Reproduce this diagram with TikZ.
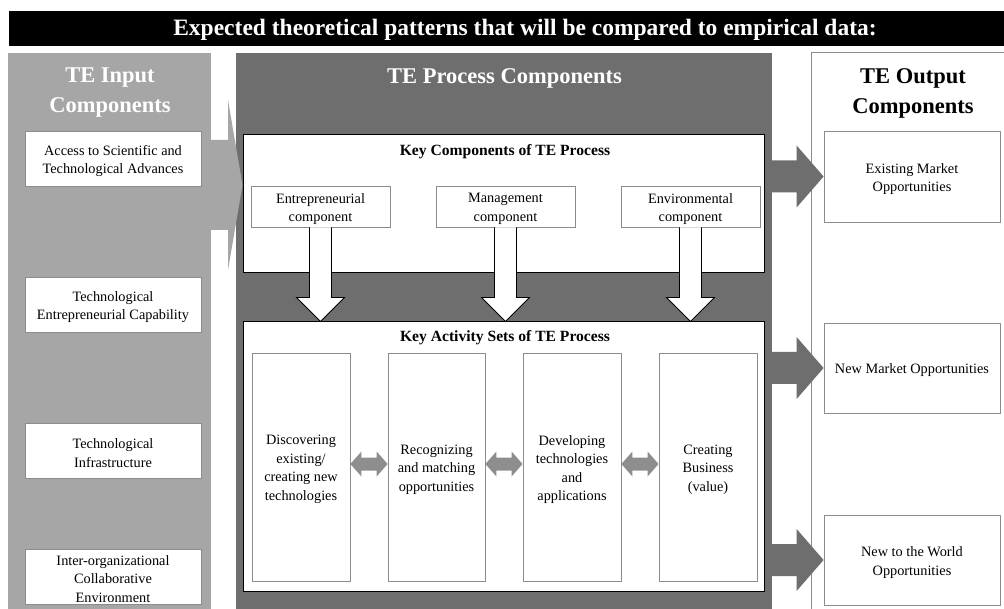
\documentclass[tikz,border=0pt]{standalone}
\usepackage{fontspec}
\setmainfont{Liberation Serif}
\usetikzlibrary{calc}
\definecolor{lightg}{HTML}{A6A6A6}
\definecolor{darkg}{HTML}{6E6E6E}
\definecolor{arrg}{HTML}{8E8E8E}
\definecolor{boxline}{HTML}{8C8C8C}
\newcommand\bodyfont{\fontsize{14.3}{18.6}\selectfont}
\newcommand\titlefont{\fontsize{22.5}{30}\selectfont\bfseries}
\newcommand\subtitlefont{\fontsize{15.6}{19}\selectfont\bfseries}
% name, x1, y1, x2, y2, style, text
\newcommand\rbox[7]{\node[#6, minimum width={#4-#2}, minimum height={#5-#3}] (#1) at ({(#2+#4)/2},{(#3+#5)/2}) {};
  \node[boxtext] (#1t) at ($(#1.center)+(0,2.5)$) {#7};}
\newcommand\darr[1]{\filldraw[fill=white, draw=black, line width=0.8pt]
  ($(#1.south)+(-11,0)$) -- ($(#1.south |- lower.north)+(-11,-24)$) -- ($(#1.south |- lower.north)+(-24,-24)$)
  -- (#1.south |- lower.north) -- ($(#1.south |- lower.north)+(24,-24)$) -- ($(#1.south |- lower.north)+(11,-24)$)
  -- ($(#1.south)+(11,0)$);}
\newcommand\rarr[1]{\fill[darkg] ($(midcol.east |- #1.west)+(-1,-16)$) -- ($(#1.west)+(-27,-16)$) -- ($(#1.west)+(-27,-31)$)
  -- (#1.west) -- ($(#1.west)+(-27,31)$) -- ($(#1.west)+(-27,16)$) -- ($(midcol.east |- #1.west)+(-1,16)$) -- cycle;}
\newcommand\dblarr[2]{\fill[arrg] ($(#1.east)+(0,-3)$) -- ++(11,-12.5) -- ++(0,6) -- ($(#2.west)+(-11,-9.5)$) -- ++(0,-6)
  -- ($(#2.west)+(0,-3)$) -- ++(-11,12.5) -- ++(0,-6) -- ($(#1.east)+(11,3.5)$) -- ++(0,6) -- cycle;}
\begin{document}
\begin{tikzpicture}[x=1pt,y=-1pt,
  box/.style={draw=boxline, fill=white, line width=0.8pt, inner sep=0pt},
  boxtext/.style={align=center, inner sep=0pt, font=\bodyfont},
  bigbox/.style={draw=black, fill=white, line width=1pt, inner sep=0pt},
  plain/.style={inner sep=0pt}]
\clip (0,0) rectangle (1004,609);
\fill[white] (0,0) rectangle (1004,609);
% banner
\node[plain, fill=black, minimum width=1001, minimum height=35] (banner) at (509.5,28.5) {};
\node[text=white, font=\fontsize{23.5}{26}\selectfont\bfseries] (bannertext) at (525,29.5) {Expected theoretical patterns that will be compared to empirical data:};
% columns
\node[plain, fill=lightg, minimum width=203, minimum height=562] (incol) at (109.5,334) {};
\node[plain, fill=darkg, minimum width=536, minimum height=562] (midcol) at (504,334) {};
\node[plain, draw=boxline, fill=white, line width=1pt, minimum width=201, minimum height=562] (outcol) at (911.5,334) {};
% column titles
\node[plain, anchor=north, align=center, text=white, font=\titlefont] (intitle) at (110,68) {TE Input\\Components};
\node[plain, anchor=north, align=center, text=white, font=\titlefont] (proctitle) at (504.5,68) {TE Process Components};
\node[plain, anchor=north, align=center, text=black, font=\titlefont] (outtitle) at (913,68) {TE Output\\Components};
% input boxes
\rbox{in1}{25}{131}{201}{186}{box}{Access to Scientific and\\Technological Advances}
\rbox{in2}{25}{277}{201}{332}{box}{Technological\\Entrepreneurial Capability}
\rbox{in3}{25}{423}{201}{478}{box}{Technological\\Infrastructure}
\rbox{in4}{25}{549}{201}{604}{box}{Inter-organizational\\Collaborative\\Environment}
% process boxes
\node[bigbox, minimum width=521, minimum height=138] (upper) at (503.5,204) {};
\node[plain, font=\subtitlefont] (uppertitle) at (505,151.5) {Key Components of TE Process};
\rbox{c1}{251}{186}{390}{227}{box}{Entrepreneurial\\component}
\rbox{c2}{436}{186}{575}{227}{box}{Management\\component}
\rbox{c3}{621}{186}{760}{227}{box}{Environmental\\component}
\node[bigbox, minimum width=521, minimum height=269] (lower) at (503.5,456.5) {};
\node[plain, font=\subtitlefont] (lowertitle) at (505,337.5) {Key Activity Sets of TE Process};
\rbox{a1}{252}{353}{350}{581}{box}{Discovering\\existing/\\creating new\\technologies}
\rbox{a2}{388}{353}{485}{581}{box}{Recognizing\\and matching\\opportunities}
\rbox{a3}{523}{353}{621}{581}{box}{Developing\\technologies\\and\\applications}
\rbox{a4}{659}{353}{757}{581}{box}{Creating\\Business\\(value)}
% output boxes
\rbox{o1}{824}{131}{1000}{222}{box}{Existing Market\\Opportunities}
\rbox{o2}{824}{323}{1000}{413}{box}{New Market Opportunities}
\rbox{o3}{824}{515}{1000}{605}{box}{New to the World\\Opportunities}
% input arrow
\fill[lightg] ($(incol.east |- 0,140)+(-1,0)$) -- (228,140) -- (228,100) -- (upper.west |- 0,185)
  -- (228,270) -- (228,230) -- ($(incol.east |- 0,230)+(-1,0)$) -- cycle;
% down arrows
\darr{c1}
\darr{c2}
\darr{c3}
% double arrows
\dblarr{a1}{a2}
\dblarr{a2}{a3}
\dblarr{a3}{a4}
% output arrows
\rarr{o1}
\rarr{o2}
\rarr{o3}
\end{tikzpicture}
\end{document}
